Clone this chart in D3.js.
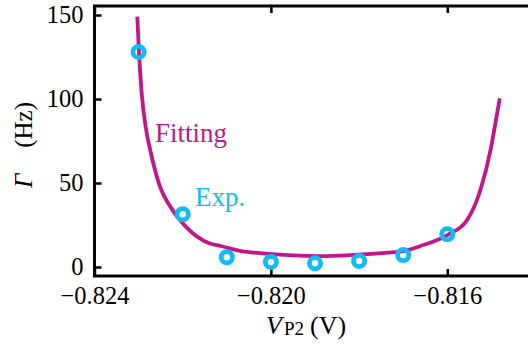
<!DOCTYPE html>
<html>
<head>
<meta charset="utf-8">
<script src="https://cdn.jsdelivr.net/npm/d3@7"></script>
</head>
<body style="margin:0">
<script>
// experimental points
var expV = [-0.823, -0.822, -0.821, -0.820, -0.819, -0.818, -0.817, -0.816];
var expGamma = [128, 31.4, 5.8, 3.0, 2.2, 3.6, 7.1, 19.5];

// fitting curve
var fitV = [-0.82303, -0.82299, -0.82293, -0.82284, -0.82272, -0.82254, -0.82223, -0.82193,
  -0.8214, -0.82114, -0.82061, -0.82038, -0.81887, -0.81736, -0.81706, -0.81661,
  -0.816, -0.81555, -0.81525, -0.81502, -0.81491, -0.81481];
var fitGamma = [149.0, 127.2, 103.4, 83.5, 67.7, 49.8, 33.9, 24.0,
  14.1, 12.5, 9.1, 8.5, 6.5, 8.5, 9.1, 12.5,
  19.0, 28.0, 45.8, 69.6, 85.5, 100.4];

var xTicks = [-0.824, -0.820, -0.816];
var yTicks = [0, 50, 100, 150];

var FONT = "Liberation Serif";
var W = 528, H = 349;
var margin = { top: 6, left: 94.5 },
  width = 441,
  height = 270;

var x = d3.scaleLinear().domain([-0.824, -0.814]).range([0, width]);
var y = d3.scaleLinear().domain([-5.36, 155.36]).range([height, 0]);

var svg = d3.select("body").append("svg")
  .attr("width", W).attr("height", H);
var g = svg.append("g")
  .attr("transform", "translate(" + margin.left + "," + margin.top + ")");

var tickLen = 7;

// axes with inward ticks
var xAxis = g.append("g")
  .attr("transform", "translate(0," + height + ")")
  .call(d3.axisBottom(x).tickValues(xTicks).tickSize(-tickLen).tickPadding(tickLen + 12)
    .tickFormat(d3.format(".3f")));
var xTop = g.append("g")
  .call(d3.axisTop(x).tickValues(xTicks).tickSize(-tickLen).tickFormat(""));
var yAxis = g.append("g")
  .call(d3.axisLeft(y).tickValues(yTicks).tickSize(-tickLen).tickPadding(tickLen + 4));
var yRight = g.append("g")
  .attr("transform", "translate(" + width + ",0)")
  .call(d3.axisRight(y).tickValues(yTicks).tickSize(-tickLen).tickFormat(""));

[xAxis, xTop, yAxis, yRight].forEach(function (a) {
  a.attr("font-family", null);
  a.select(".domain").remove();
  a.selectAll(".tick line").attr("stroke", "#000").attr("stroke-width", 2.5);
  a.selectAll(".tick text").attr("font-size", 24.5).attr("fill", "#000");
});
xAxis.selectAll(".tick text").attr("dy", "0.35em");

// frame
g.append("rect")
  .attr("x", 0).attr("y", 0)
  .attr("width", width).attr("height", height)
  .attr("fill", "none").attr("stroke", "#000").attr("stroke-width", 3);

// fitting curve
var fitData = fitV.map(function (v, i) { return { x: v, y: fitGamma[i] }; });
var line = d3.line()
  .x(function (d) { return x(d.x); })
  .y(function (d) { return y(d.y); })
  .curve(d3.curveMonotoneX);

g.append("path")
  .datum(fitData)
  .attr("d", line)
  .attr("fill", "none")
  .attr("stroke", "#c2168a")
  .attr("stroke-width", 3.8);

// exp points
var expData = expV.map(function (v, i) { return { x: v, y: expGamma[i] }; });
g.selectAll("circle.exp")
  .data(expData)
  .enter().append("circle")
  .attr("class", "exp")
  .attr("cx", function (d) { return x(d.x); })
  .attr("cy", function (d) { return y(d.y); })
  .attr("r", 5.6)
  .attr("fill", "none")
  .attr("stroke", "#0fbcf5")
  .attr("stroke-width", 4.8);

// annotations
svg.append("text")
  .attr("x", 155).attr("y", 142)
  .attr("font-size", 27).attr("fill", "#c2168a")
  .text("Fitting");
svg.append("text")
  .attr("x", 195).attr("y", 206)
  .attr("font-size", 27).attr("fill", "#0fbcf5")
  .text("Exp.");

// y label
var yl = svg.append("text")
  .attr("transform", "translate(32,188) rotate(-90)")
  .attr("font-size", 25).attr("fill", "#000");
yl.append("tspan").attr("font-style", "italic").text("Γ");
yl.append("tspan").attr("dx", 26).text("(Hz)");

// x label
var xl = svg.append("text")
  .attr("x", 266).attr("y", 334)
  .attr("font-size", 26).attr("fill", "#000");
xl.append("tspan").attr("font-style", "italic").text("V");
xl.append("tspan").attr("font-size", 19).attr("dx", 2).attr("dy", 1).text("P2");
xl.append("tspan").attr("dy", -1).attr("dx", 6).text("(V)");

// every text in the serif face
svg.selectAll("text").attr("font-family", FONT).style("font-family", FONT);
</script>
</body>
</html>
